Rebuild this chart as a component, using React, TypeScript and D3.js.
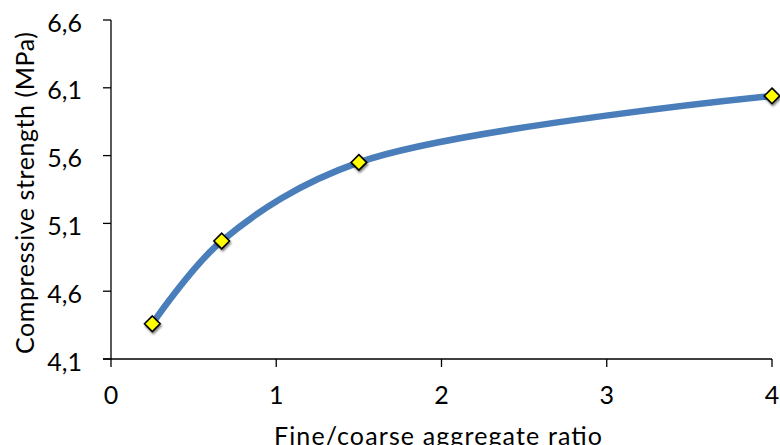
import React from "react";
import * as d3 from "d3";

const ratios = [0.25, 0.67, 1.5, 4];
const strengths = [4.36, 4.97, 5.55, 6.04];
const xTicks = [0, 1, 2, 3, 4];
const yTicks = [4.1, 4.6, 5.1, 5.6, 6.1, 6.6];

const W = 780;
const H = 445;
const FONT = "Lato, 'Open Sans', sans-serif";

export default function App() {
  const x = d3.scaleLinear().domain([0, 4]).range([111, 772]);
  const y = d3.scaleLinear().domain([4.1, 6.6]).range([359, 20]);
  const pts = ratios.map((r, i) => [r, strengths[i]] as [number, number]);
  const line = d3
    .line<[number, number]>()
    .x((d) => x(d[0]))
    .y((d) => y(d[1]))
    .curve(d3.curveCatmullRom.alpha(0.5));
  const fmt = (v: number) => v.toFixed(1).replace(".", ",");
  const s = 7.8;
  return (
    <svg
      width={W}
      height={H}
      style={{ position: "absolute", left: 0, top: 0, display: "block" }}
      fontFamily={FONT}
    >
      <defs>
        <filter id="sh" x="-50%" y="-50%" width="200%" height="200%">
          <feGaussianBlur in="SourceAlpha" stdDeviation="1.2" />
          <feOffset dx="1" dy="1.5" result="b" />
          <feComponentTransfer>
            <feFuncA type="linear" slope="0.5" />
          </feComponentTransfer>
          <feMerge>
            <feMergeNode />
            <feMergeNode in="SourceGraphic" />
          </feMerge>
        </filter>
      </defs>
      <rect width={W} height={H} fill="#fff" />
      <line x1={x(0)} x2={x(0)} y1={y(6.6)} y2={y(4.1)} stroke="#000" strokeWidth={1.3} />
      <line x1={x(0) - 8} x2={x(4)} y1={y(4.1)} y2={y(4.1)} stroke="#000" strokeWidth={1.3} />
      {yTicks.map((t) => (
        <g key={"y" + t}>
          <line x1={x(0) - 8} x2={x(0)} y1={y(t)} y2={y(t)} stroke="#000" strokeWidth={1.3} />
          <text x={82} y={y(t) + 11.5} textAnchor="end" fontSize={25} fill="#000">
            {fmt(t)}
          </text>
        </g>
      ))}
      {xTicks.map((t) => (
        <g key={"x" + t}>
          <line x1={x(t)} x2={x(t)} y1={y(4.1)} y2={y(4.1) + 8} stroke="#000" strokeWidth={1.3} />
          <text x={x(t)} y={404} textAnchor="middle" fontSize={25} fill="#000">
            {t}
          </text>
        </g>
      ))}
      <text
        x={438}
        y={445}
        textAnchor="middle"
        fontSize={25}
        fill="#000"
        textLength={328}
        lengthAdjust="spacing"
      >
        Fine/coarse aggregate ratio
      </text>
      <text
        transform={`translate(34, 193) rotate(-90)`}
        textAnchor="middle"
        fontSize={25}
        fill="#000"
        textLength={322}
        lengthAdjust="spacing"
      >
        Compressive strength (MPa)
      </text>
      <path d={line(pts) || ""} fill="none" stroke="#4a7ebb" strokeWidth={6.5} strokeLinecap="round" />
      {pts.map((p, i) => (
        <path
          key={i}
          transform={`translate(${x(p[0])},${y(p[1])})`}
          d={`M0,${-s}L${s},0L0,${s}L${-s},0Z`}
          fill="#ffff00"
          stroke="#000"
          strokeWidth={1.6}
          filter="url(#sh)"
        />
      ))}
    </svg>
  );
}
